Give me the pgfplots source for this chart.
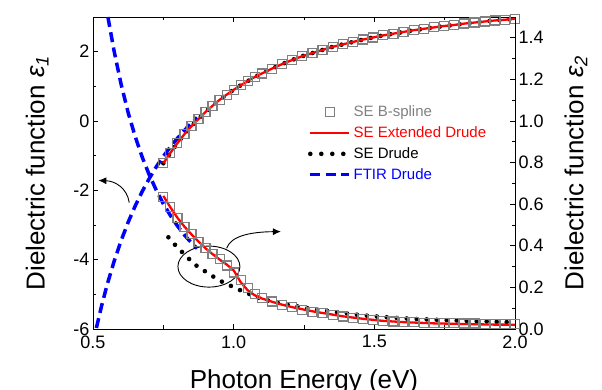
\documentclass[border=0pt]{standalone}
\usepackage{pgfplots}
\pgfplotsset{compat=1.18}
\usepackage{pgfplotstable}
\usepackage{fontspec}
\setmainfont{Liberation Sans}
\usetikzlibrary{arrows.meta}
\definecolor{sqgray}{RGB}{128,128,128}
\definecolor{myblue}{RGB}{0,0,255}
\definecolor{myred}{RGB}{255,0,0}

% SE epsilon_1 (B-spline / extended Drude / Drude nearly coincide)
\pgfplotstableread{
x e1
0.75 -1.22
0.775 -0.92
0.80 -0.64
0.825 -0.38
0.85 -0.15
0.875 0.06
0.90 0.26
0.925 0.44
0.95 0.61
0.975 0.76
1.00 0.90
1.025 1.03
1.05 1.15
1.075 1.27
1.10 1.37
1.136 1.51
1.172 1.64
1.208 1.76
1.244 1.87
1.28 1.96
1.316 2.05
1.352 2.14
1.388 2.21
1.424 2.28
1.46 2.35
1.496 2.41
1.532 2.47
1.568 2.52
1.604 2.57
1.64 2.62
1.676 2.66
1.712 2.70
1.748 2.74
1.784 2.77
1.82 2.81
1.856 2.84
1.892 2.87
1.928 2.90
1.964 2.92
2.0 2.95
}\seone

% SE Extended Drude epsilon_2
\pgfplotstableread{
x e2
0.75 0.640
0.775 0.585
0.80 0.535
0.825 0.492
0.85 0.455
0.875 0.420
0.90 0.388
0.925 0.360
0.95 0.334
0.975 0.310
1.00 0.282
1.025 0.225
1.05 0.186
1.075 0.162
1.10 0.147
1.136 0.131
1.172 0.117
1.208 0.105
1.244 0.095
1.28 0.085
1.316 0.077
1.352 0.069
1.388 0.061
1.424 0.055
1.46 0.049
1.496 0.044
1.532 0.039
1.568 0.036
1.604 0.033
1.64 0.031
1.676 0.029
1.712 0.027
1.748 0.026
1.784 0.025
1.82 0.024
1.856 0.023
1.892 0.022
1.928 0.021
1.964 0.021
2.0 0.020
}\extdrude

% SE B-spline epsilon_2
\pgfplotstableread{
x e2
0.75 0.635
0.775 0.585
0.80 0.535
0.825 0.492
0.85 0.455
0.875 0.420
0.90 0.390
0.925 0.362
0.95 0.335
0.975 0.305
1.00 0.272
1.025 0.235
1.05 0.198
1.075 0.170
1.10 0.150
1.136 0.132
1.172 0.117
1.208 0.104
1.244 0.093
1.28 0.083
1.316 0.075
1.352 0.067
1.388 0.060
1.424 0.054
1.46 0.048
1.496 0.044
1.532 0.040
1.568 0.036
1.604 0.034
1.64 0.032
1.676 0.030
1.712 0.029
1.748 0.028
1.784 0.027
1.82 0.026
1.856 0.026
1.892 0.025
1.928 0.025
1.964 0.024
2.0 0.024
}\bspline

% SE Drude epsilon_2
\pgfplotstableread{
x e2
0.768 0.441
0.792 0.404
0.821 0.364
0.845 0.332
0.869 0.303
0.90 0.276
0.931 0.249
0.963 0.224
0.997 0.203
1.029 0.183
1.094 0.147
1.15 0.127
1.212 0.112
1.27 0.098
1.331 0.087
1.39 0.077
1.449 0.067
1.51 0.060
1.568 0.054
1.65 0.048
1.745 0.043
1.83 0.039
1.923 0.035
2.0 0.032
}\sedrude

% FTIR Drude epsilon_1
\pgfplotstableread{
x e1
0.512 -5.97
0.53 -5.35
0.55 -4.73
0.575 -4.05
0.60 -3.45
0.625 -2.92
0.65 -2.45
0.675 -2.03
0.70 -1.66
0.725 -1.32
0.75 -1.02
0.775 -0.75
0.80 -0.50
0.825 -0.27
0.85 -0.06
0.87 0.10
}\ftirone

% FTIR Drude epsilon_2
\pgfplotstableread{
x e2
0.553 1.500
0.575 1.336
0.60 1.176
0.625 1.040
0.65 0.925
0.675 0.826
0.70 0.741
0.725 0.667
0.75 0.602
0.775 0.546
0.80 0.496
0.825 0.452
0.85 0.414
0.87 0.387
}\ftirtwo

\pgfplotsset{
  common/.style={
    at={(0pt,0pt)}, anchor=south west,
    scale only axis, width=422pt, height=312pt,
    xmin=0.5, xmax=2.0,
    tick align=inside,
    major tick length=5pt, minor tick length=3.5pt,
    every tick/.style={black, line width=0.8pt},
    axis line style={line width=0.8pt},
    tick label style={font=\fontsize{18}{20}\selectfont},
    /pgf/number format/assume math mode=true,
    label style={font=\fontsize{26}{30}\selectfont},
  },
  sqstyle/.style={only marks, mark=square, mark size=4.5pt, mark options={draw=sqgray, line width=1.2pt, fill=none}},
  redstyle/.style={myred, line width=2.3pt, no marks},
  dotstyle/.style={black, line width=4.6pt, line cap=round, dash pattern=on 0pt off 10pt, no marks},
  bluestyle/.style={myblue, line width=3.5pt, dash pattern=on 10pt off 5.5pt, no marks},
}

\begin{document}
\begin{tikzpicture}
\begin{axis}[common,
  ymin=-6, ymax=3,
  xtick={0.5,1.0,1.5,2.0}, minor xtick={0.75,1.25,1.75},
  ytick={-6,-4,-2,0,2}, minor ytick={-5,-3,-1,1},
  xtick pos=both, ytick pos=left,
  xticklabel style={yshift=-3pt, /pgf/number format/.cd, fixed, fixed zerofill, precision=1, /tikz/.cd},
  xlabel={Photon Energy (eV)},
  xlabel style={yshift=-15pt},
  ylabel={Dielectric function \textit{ε}\textsubscript{\textit{1}}},
  ylabel style={yshift=18pt},
]
\addplot[sqstyle] table[x=x,y=e1] {\seone};
\addplot[bluestyle] table[x=x,y=e1] {\ftirone};
\addplot[dotstyle] table[x=x,y=e1] {\seone};
\addplot[redstyle] table[x=x,y=e1] {\seone};
\draw[black, line width=0.9pt] (axis cs:0.912,-4.2) ellipse [x radius=31pt, y radius=20.5pt];
\draw[black, line width=0.9pt, -{Latex[length=8pt,width=7pt]}] (axis cs:0.975,-3.67) .. controls (axis cs:0.99,-3.32) and (axis cs:1.058,-3.2) .. (axis cs:1.168,-3.19);
\draw[black, line width=0.9pt, -{Latex[length=8pt,width=7pt]}] (axis cs:0.629,-2.356) .. controls (axis cs:0.621,-1.93) and (axis cs:0.578,-1.73) .. (axis cs:0.519,-1.716);
\end{axis}
\begin{axis}[common,
  ymin=0, ymax=1.5,
  axis x line=none, axis y line*=right,
  ytick={0,0.2,0.4,0.6,0.8,1.0,1.2,1.4},
  minor ytick={0.1,0.3,0.5,0.7,0.9,1.1,1.3},
  yticklabel style={/pgf/number format/.cd, fixed, fixed zerofill, precision=1, /tikz/.cd},
  ylabel={Dielectric function \textit{ε}\textsubscript{\textit{2}}},
  ylabel style={yshift=-14pt},
  legend style={at={(0.509,0.722)}, anchor=north west, draw=none, fill=none,
    font=\fontsize{15}{17}\selectfont, row sep=4.5pt, inner sep=0pt},
  legend cell align=left,
  legend image code/.code={\draw[mark repeat=2,mark phase=2,#1] plot coordinates {(0pt,0pt) (19.5pt,0pt) (39pt,0pt)};},
]
\addplot[sqstyle, forget plot] table[x=x,y=e2] {\bspline};
\addplot[bluestyle, forget plot] table[x=x,y=e2] {\ftirtwo};
\addplot[dotstyle, forget plot] table[x=x,y=e2] {\sedrude};
\addplot[redstyle, forget plot] table[x=x,y=e2] {\extdrude};
\addlegendimage{sqstyle}
\addlegendentry{\textcolor{sqgray}{SE B-spline}}
\addlegendimage{redstyle}
\addlegendentry{\textcolor{myred}{SE Extended Drude}}
\addlegendimage{dotstyle, dash pattern=on 0pt off 11pt}
\addlegendentry{SE Drude}
\addlegendimage{bluestyle}
\addlegendentry{\textcolor{myblue}{FTIR Drude}}
\end{axis}
\pgfresetboundingbox
\path[use as bounding box] (-93pt,-61pt) rectangle (509pt,329pt);
\end{tikzpicture}
\end{document}
